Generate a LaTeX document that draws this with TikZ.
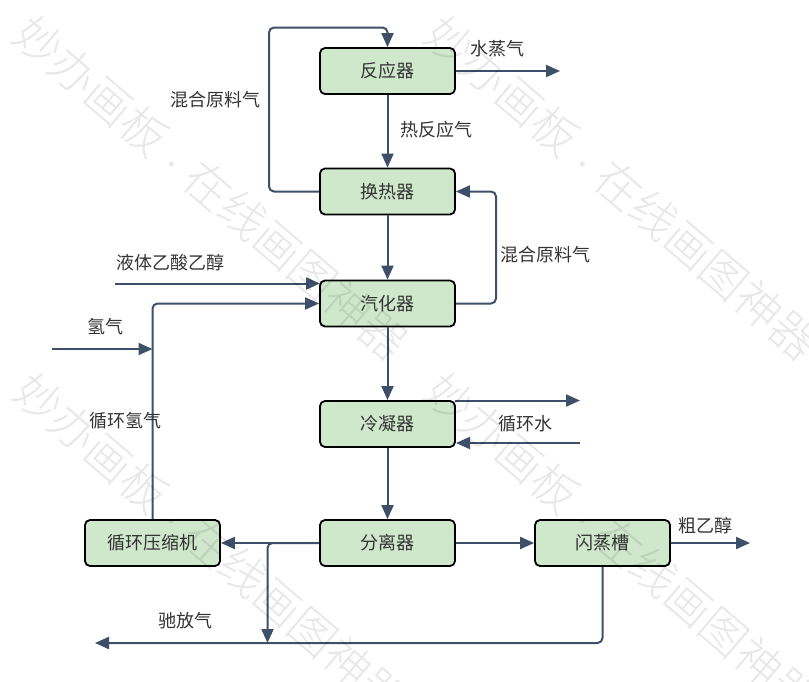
\documentclass[tikz,border=0pt]{standalone}
\usepackage{fontspec}
\setmainfont{Noto Sans CJK SC}
\newfontfamily\wmfont[UprightFont=* Light]{Noto Sans CJK SC}
\usetikzlibrary{arrows.meta}
\definecolor{flowline}{HTML}{3D4F69}
\definecolor{boxfill}{HTML}{CFE8CC}
\definecolor{labeltext}{HTML}{333333}
\newcommand{\wmtext}{妙办画板\hspace{19.5pt}\makebox[0pt]{\fontsize{26pt}{30pt}\selectfont ·}\hspace{18.5pt}在线画图神器}
\tikzset{
  x=1pt,y=-1pt,
  procbox/.style={draw=black,line width=1.8pt,fill=boxfill,rounded corners=5pt,minimum width=135pt,minimum height=46pt,inner sep=0pt,text=labeltext,font=\fontsize{18pt}{22pt}\selectfont},
  flow/.style={draw=flowline,line width=2pt,rounded corners=5pt,-{Triangle[length=14pt,width=12pt]}},
  lbl/.style={text=labeltext,inner sep=0pt,font=\fontsize{18pt}{22pt}\selectfont},
  wmark/.style={text=black,text opacity=0.09,inner sep=0pt,rotate=-40.5,font=\wmfont\fontsize{46pt}{50pt}\selectfont}
}
\begin{document}
\begin{tikzpicture}
\useasboundingbox (0,0) rectangle (809,681);
\node[procbox] (reactor) at (387.5,71) {反应器};
\node[procbox] (exchanger) at (387.5,191.5) {换热器};
\node[procbox] (vaporizer) at (387.5,303.5) {汽化器};
\node[procbox] (condenser) at (387.5,424) {冷凝器};
\node[procbox] (separator) at (387.5,543) {分离器};
\node[procbox] (compressor) at (152.5,543) {循环压缩机};
\node[procbox] (flash) at (602.5,543) {闪蒸槽};
\coordinate (steamout) at (560,71);
\coordinate (loopa) at (269,191.5);
\coordinate (loopb) at (269,27.5);
\coordinate (loopc) at (387.5,27.5);
\coordinate (retA) at (496,303.5);
\coordinate (retB) at (496,191.5);
\coordinate (liquidin) at (115,283.5);
\coordinate (liquidend) at (320,283.5);
\coordinate (hcorner) at (152.5,303.5);
\coordinate (h2in) at (52,349);
\coordinate (h2end) at (152.5,349);
\coordinate (cwoutS) at (455,400.5);
\coordinate (cwoutE) at (580,400.5);
\coordinate (cwinS) at (580,443);
\coordinate (cwinE) at (456,443);
\coordinate (branch) at (267.5,543);
\coordinate (branchend) at (267.5,643);
\coordinate (crudeout) at (750,543);
\coordinate (purgecorner) at (602.5,643);
\coordinate (purgeend) at (95,643);
\draw[flow] (exchanger.west) -- (loopa) -- (loopb) -- (loopc) -- (reactor.north);
\draw[flow] (reactor.east) -- (steamout);
\draw[flow] (reactor.south) -- (exchanger.north);
\draw[flow] (exchanger.south) -- (vaporizer.north);
\draw[flow] (vaporizer.east) -- (retA) -- (retB) -- (exchanger.east);
\draw[flow] (liquidin) -- (liquidend);
\draw[flow] (compressor.north) -- (hcorner) -- (vaporizer.west);
\draw[flow] (h2in) -- (h2end);
\draw[flow] (vaporizer.south) -- (condenser.north);
\draw[flow] (cwoutS) -- (cwoutE);
\draw[flow] (cwinS) -- (cwinE);
\draw[flow] (condenser.south) -- (separator.north);
\draw[flow] (separator.west) -- (compressor.east);
\draw[flow] (separator.west) -- (branch) -- (branchend);
\draw[flow] (separator.east) -- (flash.west);
\draw[flow] (flash.east) -- (crudeout);
\draw[flow] (flash.south) -- (purgecorner) -- (purgeend);
\node[lbl] (t1) at (215.5,100) {混合原料气};
\node[lbl] (t2) at (497.5,49) {水蒸气};
\node[lbl] (t3) at (436,129.5) {热反应气};
\node[lbl] (t4) at (545,255) {混合原料气};
\node[lbl] (t5) at (170,262.5) {液体乙酸乙醇};
\node[lbl] (t6) at (105,327) {氢气};
\node[lbl] (t7) at (125,421) {循环氢气};
\node[lbl] (t8) at (525,424) {循环水};
\node[lbl] (t9) at (705,526) {粗乙醇};
\node[lbl] (t10) at (185,621) {驰放气};
\node[wmark] (w1) at (211,188) {\wmtext};
\node[wmark] (w2) at (622,188) {\wmtext};
\node[wmark] (w3) at (211,545) {\wmtext};
\node[wmark] (w4) at (622,545) {\wmtext};
\end{tikzpicture}
\end{document}
